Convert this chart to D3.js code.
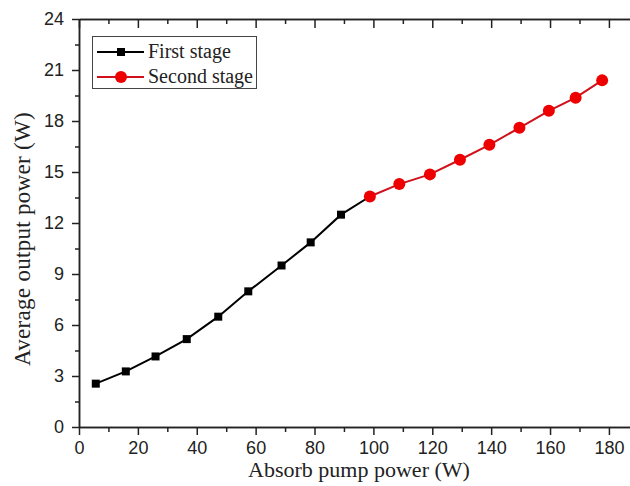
<!DOCTYPE html>
<html>
<head>
<meta charset="utf-8">
<script src="https://cdn.jsdelivr.net/npm/d3@7"></script>
<style>
  body { margin: 0; background: #fff; }
  svg { display: block; }
</style>
</head>
<body>
<svg id="chart" width="630" height="486"></svg>
<script>
// first stage (black squares)
var firstX = [5.7, 15.9, 26.0, 36.6, 47.3, 57.5, 68.8, 78.7, 89.0, 98.8];
var firstY = [2.55, 3.27, 4.15, 5.17, 6.49, 7.98, 9.5, 10.86, 12.49, 13.56];
// second stage (red circles)
var secondX = [98.8, 108.8, 119.2, 129.4, 139.4, 149.6, 159.6, 168.7, 177.7];
var secondY = [13.56, 14.29, 14.86, 15.72, 16.6, 17.6, 18.6, 19.37, 20.39];

var xTicks = [0, 20, 40, 60, 80, 100, 120, 140, 160, 180];
var yTicks = [0, 3, 6, 9, 12, 15, 18, 21, 24];
var legendLabels = ["First stage", "Second stage"];

var svg = d3.select("#chart");
var plotLeft = 79, plotTop = 19, plotBottom = 427;
var x = d3.scaleLinear().domain([0, 190]).range([plotLeft, plotLeft + 190 * 2.944]);
var y = d3.scaleLinear().domain([0, 24]).range([plotBottom, plotTop]);

var xMinor = d3.range(10, 190, 20);
var yMinor = d3.range(1.5, 24, 3);

// bottom axis
svg.append("g").attr("transform", "translate(0," + plotBottom + ")")
	.call(d3.axisBottom(x).tickValues(xTicks).tickSize(8).tickSizeOuter(0).tickPadding(6));
svg.append("g").attr("transform", "translate(0," + plotBottom + ")")
	.call(d3.axisBottom(x).tickValues(xMinor).tickSize(5).tickSizeOuter(0).tickFormat(""));
// top axis, ticks inward
svg.append("g").attr("transform", "translate(0," + plotTop + ")")
	.call(d3.axisBottom(x).tickValues(xTicks).tickSize(9).tickSizeOuter(0).tickFormat(""));
svg.append("g").attr("transform", "translate(0," + plotTop + ")")
	.call(d3.axisBottom(x).tickValues(xMinor).tickSize(5).tickSizeOuter(0).tickFormat(""));
// left axis
svg.append("g").attr("transform", "translate(" + plotLeft + ",0)")
	.call(d3.axisLeft(y).tickValues(yTicks).tickSize(7).tickSizeOuter(0).tickPadding(8));
svg.append("g").attr("transform", "translate(" + plotLeft + ",0)")
	.call(d3.axisLeft(y).tickValues(yMinor).tickSize(4).tickSizeOuter(0).tickFormat(""));

svg.selectAll(".domain, .tick line").attr("stroke", "#222").attr("stroke-width", 1.5);
svg.selectAll(".tick text").attr("font-family", "Liberation Sans, Arial, sans-serif")
	.attr("font-size", "18px").attr("fill", "#222");

// axis titles
svg.append("text").attr("x", 359).attr("y", 477).attr("text-anchor", "middle")
	.attr("font-family", "Liberation Serif, Times New Roman, serif").attr("font-size", "22px")
	.attr("fill", "#222").text("Absorb pump power (W)");
svg.append("text").attr("transform", "translate(30,239) rotate(-90)").attr("text-anchor", "middle")
	.attr("font-family", "Liberation Serif, Times New Roman, serif").attr("font-size", "23px")
	.attr("letter-spacing", "0.3px")
	.attr("fill", "#222").text("Average output power (W)");

var line = d3.line().x(function(d){ return x(d[0]); }).y(function(d){ return y(d[1]); });
var first = d3.zip(firstX, firstY);
var second = d3.zip(secondX, secondY);

svg.append("path").datum(first).attr("d", line).attr("fill", "none")
	.attr("stroke", "#000").attr("stroke-width", 2);
svg.append("path").datum(second).attr("d", line).attr("fill", "none")
	.attr("stroke", "#d0101a").attr("stroke-width", 2);

svg.selectAll(".sq").data(first.slice(0, first.length - 1)).enter().append("rect")
	.attr("x", function(d){ return x(d[0]) - 4; })
	.attr("y", function(d){ return y(d[1]) - 4; })
	.attr("width", 8).attr("height", 8).attr("fill", "#000");
svg.selectAll(".dot").data(second).enter().append("circle")
	.attr("cx", function(d){ return x(d[0]); })
	.attr("cy", function(d){ return y(d[1]); })
	.attr("r", 6).attr("fill", "#ee0000");

// legend
var lg = svg.append("g");
lg.append("rect").attr("x", 92.5).attr("y", 36.5).attr("width", 164).attr("height", 52)
	.attr("fill", "#fff").attr("stroke", "#444").attr("stroke-width", 1);
legendLabels.forEach(function(lab, i){
	var yy = 52 + i * 25;
	lg.append("line").attr("x1", 97).attr("x2", 144).attr("y1", yy).attr("y2", yy)
		.attr("stroke", i ? "#d0101a" : "#000").attr("stroke-width", 2);
	if (i) lg.append("circle").attr("cx", 121).attr("cy", yy).attr("r", 6).attr("fill", "#ee0000");
	else lg.append("rect").attr("x", 117).attr("y", yy - 4).attr("width", 8).attr("height", 8).attr("fill", "#000");
	lg.append("text").attr("x", 148).attr("y", yy + 6).attr("font-family", "Liberation Serif, Times New Roman, serif")
		.attr("font-size", "20px").attr("fill", "#222").text(lab);
});
</script>
</body>
</html>
